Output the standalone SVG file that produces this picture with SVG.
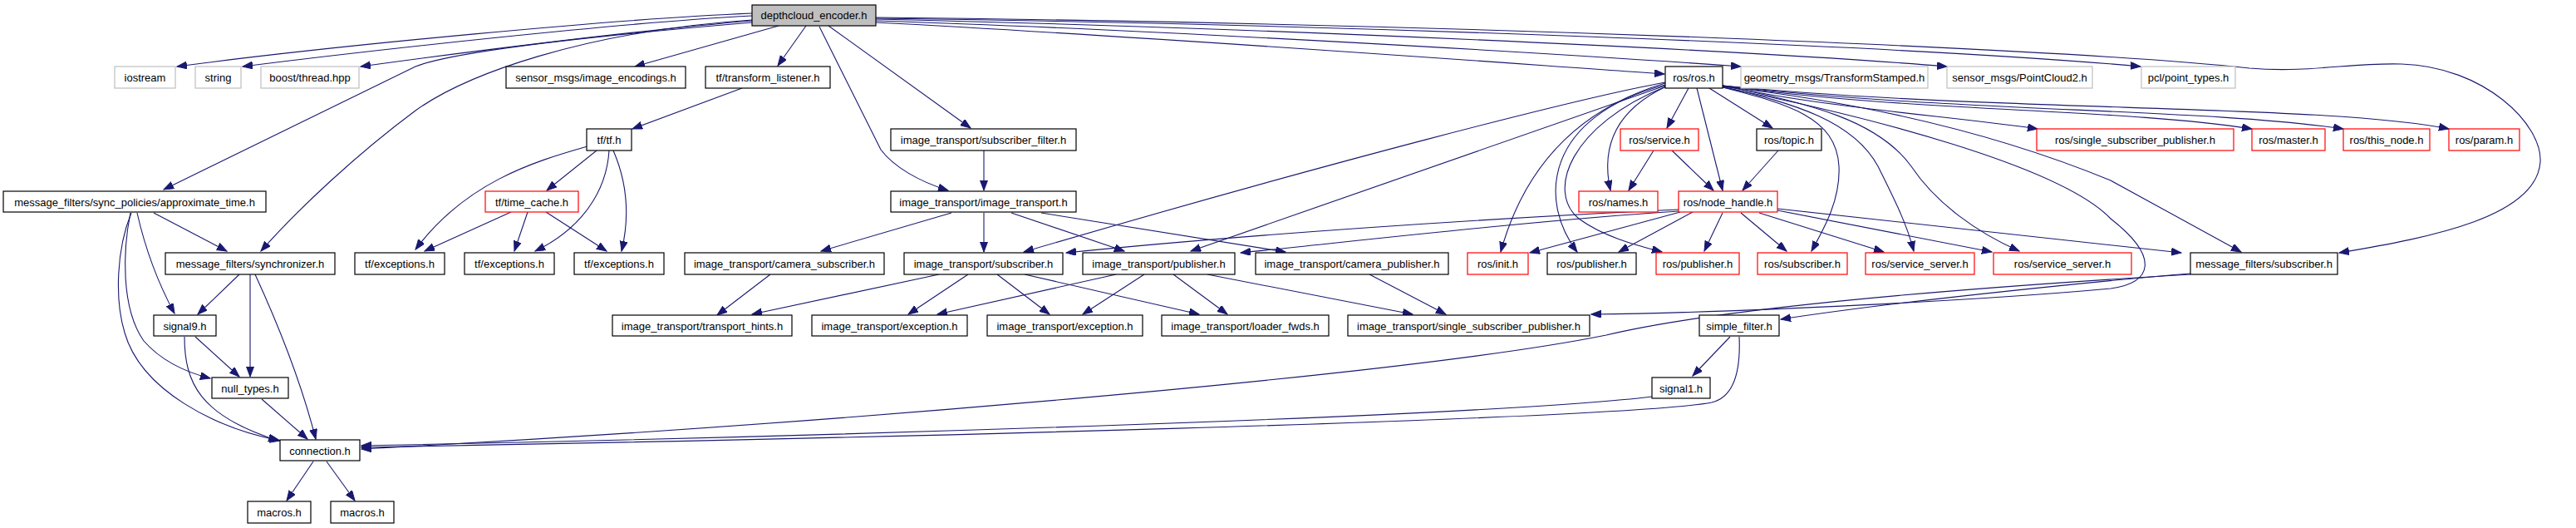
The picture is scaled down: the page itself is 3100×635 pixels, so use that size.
<svg xmlns="http://www.w3.org/2000/svg" width="3100" height="635" viewBox="0 0 3100 635">
<defs>
<marker id="ah" markerUnits="userSpaceOnUse" markerWidth="13" markerHeight="10" refX="12" refY="4.5" orient="auto">
<path d="M0,0 L12,4.5 L0,9 z" fill="#191970" stroke="#191970" stroke-width="1"/>
</marker>
<style>
.e{fill:none;stroke:#191970;stroke-width:1.1;marker-end:url(#ah)}
.n rect{fill:#fff;stroke:#000;stroke-width:1.2}
.n.r rect{stroke:#ff0000}
.n.g rect{stroke:#bfbfbf}
.n.root rect{fill:#bfbfbf;stroke:#000}
.n text{font-family:"Liberation Sans",Arial,sans-serif;font-size:13px;text-anchor:middle;fill:#000}
</style>
</defs>
<rect width="3100" height="635" fill="#fff"/>
<g id="edges">
<path class="e" d="M905,16 C750,22 400,55 213,80"/>
<path class="e" d="M905,19 C750,27 450,60 292,80"/>
<path class="e" d="M905,25 C750,38 520,68 434,80"/>
<path class="e" d="M905,27 C680,46 540,64 500,80 L197,228"/>
<path class="e" d="M905,24 C700,38 560,90 500,133 C430,185 360,250 314,302"/>
<path class="e" d="M937,31 L764,80"/>
<path class="e" d="M970,31 L936,79"/>
<path class="e" d="M997,31 L1168,154"/>
<path class="e" d="M986,32 L1060,180 C1075,200 1105,218 1141,229"/>
<path class="e" d="M1054,27 C1400,45 1800,75 2003,89"/>
<path class="e" d="M1054,25 C1400,36 1900,66 2095,80"/>
<path class="e" d="M1054,23 C1500,33 2100,60 2343,80"/>
<path class="e" d="M1054,22 C1600,29 2300,55 2576,80"/>
<path class="e" d="M1054,21 C1800,29 2500,60 2707,82 C2780,88 2830,75 2890,77 C2990,80 3060,150 3057,195 C3052,260 2930,285 2815,304"/>
<path class="e" d="M893,106 L761,155"/>
<path class="e" d="M718,181 L658,229"/>
<path class="e" d="M707,176 C640,195 560,220 500,300"/>
<path class="e" d="M733,181 C730,230 700,275 644,302"/>
<path class="e" d="M738,181 C755,220 758,260 748,302"/>
<path class="e" d="M615,255 L511,302"/>
<path class="e" d="M635,255 L619,302"/>
<path class="e" d="M657,255 L730,302"/>
<path class="e" d="M1184,181 L1184,229"/>
<path class="e" d="M1145,256 L988,302"/>
<path class="e" d="M1184,256 L1184,303"/>
<path class="e" d="M1217,256 L1353,302"/>
<path class="e" d="M1253,256 L1547,303"/>
<path class="e" d="M2004,99 C1900,118 1600,195 1232,303"/>
<path class="e" d="M2004,103 L1433,302"/>
<path class="e" d="M2032,106 L2006,154"/>
<path class="e" d="M2042,106 L2073,229"/>
<path class="e" d="M2057,106 L2133,154"/>
<path class="e" d="M2005,104 C1950,130 1925,170 1938,229"/>
<path class="e" d="M2004,100 C1920,125 1840,180 1806,303"/>
<path class="e" d="M2004,102 C1860,140 1850,240 1898,303"/>
<path class="e" d="M2005,104 C1890,150 1860,230 1900,263 C1930,285 1970,295 2000,303"/>
<path class="e" d="M2073,105 C2150,125 2210,140 2213,200 C2215,240 2195,275 2180,302"/>
<path class="e" d="M2073,104 C2160,125 2230,145 2260,200 C2280,240 2295,270 2303,302"/>
<path class="e" d="M2073,103 C2180,125 2260,145 2300,200 C2330,245 2380,280 2430,302"/>
<path class="e" d="M2073,103 C2200,130 2350,140 2452,155"/>
<path class="e" d="M2073,103 C2300,135 2550,130 2710,155"/>
<path class="e" d="M2073,103 C2350,135 2650,130 2820,155"/>
<path class="e" d="M2073,103 C2400,135 2800,125 2947,155"/>
<path class="e" d="M2073,104 C2300,130 2450,180 2540,217 L2697,303"/>
<path class="e" d="M2073,105 C2250,140 2480,200 2540,263 C2600,310 2590,340 2540,347 C2400,360 2100,376 1915,378"/>
<path class="e" d="M1990,181 L1960,229"/>
<path class="e" d="M2012,181 L2062,229"/>
<path class="e" d="M2140,181 L2097,229"/>
<path class="e" d="M2020,252 C1800,262 1500,282 1283,304"/>
<path class="e" d="M2020,254 C1850,265 1650,288 1493,304"/>
<path class="e" d="M2022,255 L1841,304"/>
<path class="e" d="M2037,255 L1948,303"/>
<path class="e" d="M2073,256 L2051,302"/>
<path class="e" d="M2095,256 L2150,302"/>
<path class="e" d="M2117,256 L2267,303"/>
<path class="e" d="M2139,253 L2397,303"/>
<path class="e" d="M2139,251 L2625,304"/>
<path class="e" d="M927,330 L863,379"/>
<path class="e" d="M1130,330 L905,378"/>
<path class="e" d="M1165,330 L1093,378"/>
<path class="e" d="M1200,330 L1263,378"/>
<path class="e" d="M1233,330 L1443,378"/>
<path class="e" d="M1343,330 L1128,378"/>
<path class="e" d="M1377,330 L1303,378"/>
<path class="e" d="M1412,330 L1477,378"/>
<path class="e" d="M1453,330 L1700,378"/>
<path class="e" d="M1648,330 L1740,378"/>
<path class="e" d="M2636,329 C2550,336 2300,360 2143,384"/>
<path class="e" d="M2636,330 C2300,350 2050,375 1933,403 C1700,450 1000,510 435,540"/>
<path class="e" d="M2082,405 L2037,452"/>
<path class="e" d="M2093,405 C2095,450 2085,478 2060,484 C1950,505 1000,528 435,538"/>
<path class="e" d="M1988,477 C1800,500 1000,525 435,536"/>
<path class="e" d="M185,256 L273,302"/>
<path class="e" d="M165,256 C175,300 190,340 210,377"/>
<path class="e" d="M157,256 C148,300 145,370 173,410 C195,435 225,448 253,455"/>
<path class="e" d="M158,256 C140,300 138,360 150,400 C170,470 260,515 337,530"/>
<path class="e" d="M288,330 L238,378"/>
<path class="e" d="M301,330 L301,453"/>
<path class="e" d="M307,330 C330,380 360,450 380,528"/>
<path class="e" d="M235,405 L288,453"/>
<path class="e" d="M222,405 C222,460 240,500 335,530"/>
<path class="e" d="M315,480 L370,528"/>
<path class="e" d="M377,555 L345,602"/>
<path class="e" d="M393,555 L427,602"/>
</g>
<g id="n0" class="n root"><rect x="905" y="6" width="149" height="25"/><text x="979.5" y="23">depthcloud_encoder.h</text></g>
<g id="n1" class="n g"><rect x="138" y="80" width="73" height="26"/><text x="174.5" y="97.5">iostream</text></g>
<g id="n2" class="n g"><rect x="235" y="80" width="55" height="26"/><text x="262.5" y="97.5">string</text></g>
<g id="n3" class="n g"><rect x="314" y="80" width="118" height="26"/><text x="373" y="97.5">boost/thread.hpp</text></g>
<g id="n4" class="n"><rect x="609" y="80" width="216" height="26"/><text x="717" y="97.5">sensor_msgs/image_encodings.h</text></g>
<g id="n5" class="n"><rect x="849" y="80" width="150" height="26"/><text x="924" y="97.5">tf/transform_listener.h</text></g>
<g id="n6" class="n"><rect x="2004" y="80" width="69" height="26"/><text x="2038.5" y="97.5">ros/ros.h</text></g>
<g id="n7" class="n g"><rect x="2095" y="80" width="225" height="26"/><text x="2207.5" y="97.5">geometry_msgs/TransformStamped.h</text></g>
<g id="n8" class="n g"><rect x="2343" y="80" width="175" height="26"/><text x="2430.5" y="97.5">sensor_msgs/PointCloud2.h</text></g>
<g id="n9" class="n g"><rect x="2577" y="80" width="113" height="26"/><text x="2633.5" y="97.5">pcl/point_types.h</text></g>
<g id="n10" class="n"><rect x="706" y="155" width="54" height="26"/><text x="733" y="172.5">tf/tf.h</text></g>
<g id="n11" class="n"><rect x="1072" y="155" width="223" height="26"/><text x="1183.5" y="172.5">image_transport/subscriber_filter.h</text></g>
<g id="n12" class="n r"><rect x="1950" y="155" width="94" height="26"/><text x="1997" y="172.5">ros/service.h</text></g>
<g id="n13" class="n"><rect x="2114" y="155" width="78" height="26"/><text x="2153" y="172.5">ros/topic.h</text></g>
<g id="n14" class="n r"><rect x="2451" y="155" width="237" height="26"/><text x="2569.5" y="172.5">ros/single_subscriber_publisher.h</text></g>
<g id="n15" class="n r"><rect x="2710" y="155" width="88" height="26"/><text x="2754" y="172.5">ros/master.h</text></g>
<g id="n16" class="n r"><rect x="2820" y="155" width="104" height="26"/><text x="2872" y="172.5">ros/this_node.h</text></g>
<g id="n17" class="n r"><rect x="2947" y="155" width="85" height="26"/><text x="2989.5" y="172.5">ros/param.h</text></g>
<g id="n18" class="n"><rect x="4" y="230" width="316" height="25"/><text x="162" y="247.5">message_filters/sync_policies/approximate_time.h</text></g>
<g id="n19" class="n r"><rect x="584" y="230" width="112" height="25"/><text x="640" y="247.5">tf/time_cache.h</text></g>
<g id="n20" class="n"><rect x="1072" y="230" width="223" height="25"/><text x="1183.5" y="247.5">image_transport/image_transport.h</text></g>
<g id="n21" class="n r"><rect x="1900" y="230" width="95" height="25"/><text x="1947.5" y="247.5">ros/names.h</text></g>
<g id="n22" class="n r"><rect x="2020" y="230" width="119" height="25"/><text x="2079.5" y="247.5">ros/node_handle.h</text></g>
<g id="n23" class="n"><rect x="199" y="304" width="204" height="26"/><text x="301" y="321.5">message_filters/synchronizer.h</text></g>
<g id="n24" class="n"><rect x="427" y="304" width="108" height="26"/><text x="481" y="321.5">tf/exceptions.h</text></g>
<g id="n25" class="n"><rect x="559" y="304" width="108" height="26"/><text x="613" y="321.5">tf/exceptions.h</text></g>
<g id="n26" class="n"><rect x="691" y="304" width="108" height="26"/><text x="745" y="321.5">tf/exceptions.h</text></g>
<g id="n27" class="n"><rect x="824" y="304" width="240" height="26"/><text x="944" y="321.5">image_transport/camera_subscriber.h</text></g>
<g id="n28" class="n"><rect x="1088" y="304" width="191" height="26"/><text x="1183.5" y="321.5">image_transport/subscriber.h</text></g>
<g id="n29" class="n"><rect x="1303" y="304" width="183" height="26"/><text x="1394.5" y="321.5">image_transport/publisher.h</text></g>
<g id="n30" class="n"><rect x="1511" y="304" width="232" height="26"/><text x="1627" y="321.5">image_transport/camera_publisher.h</text></g>
<g id="n31" class="n r"><rect x="1766" y="304" width="73" height="26"/><text x="1802.5" y="321.5">ros/init.h</text></g>
<g id="n32" class="n"><rect x="1862" y="304" width="107" height="26"/><text x="1915.5" y="321.5">ros/publisher.h</text></g>
<g id="n33" class="n r"><rect x="1993" y="304" width="100" height="26"/><text x="2043" y="321.5">ros/publisher.h</text></g>
<g id="n34" class="n r"><rect x="2115" y="304" width="108" height="26"/><text x="2169" y="321.5">ros/subscriber.h</text></g>
<g id="n35" class="n r"><rect x="2245" y="304" width="131" height="26"/><text x="2310.5" y="321.5">ros/service_server.h</text></g>
<g id="n36" class="n r"><rect x="2399" y="304" width="166" height="26"/><text x="2482" y="321.5">ros/service_server.h</text></g>
<g id="n37" class="n"><rect x="2636" y="304" width="177" height="26"/><text x="2724.5" y="321.5">message_filters/subscriber.h</text></g>
<g id="n38" class="n"><rect x="185" y="379" width="75" height="25"/><text x="222.5" y="396.5">signal9.h</text></g>
<g id="n39" class="n"><rect x="737" y="379" width="216" height="25"/><text x="845" y="396.5">image_transport/transport_hints.h</text></g>
<g id="n40" class="n"><rect x="977" y="379" width="187" height="25"/><text x="1070.5" y="396.5">image_transport/exception.h</text></g>
<g id="n41" class="n"><rect x="1188" y="379" width="187" height="25"/><text x="1281.5" y="396.5">image_transport/exception.h</text></g>
<g id="n42" class="n"><rect x="1398" y="379" width="201" height="25"/><text x="1498.5" y="396.5">image_transport/loader_fwds.h</text></g>
<g id="n43" class="n"><rect x="1622" y="379" width="291" height="25"/><text x="1767.5" y="396.5">image_transport/single_subscriber_publisher.h</text></g>
<g id="n44" class="n"><rect x="2045" y="379" width="96" height="25"/><text x="2093" y="396.5">simple_filter.h</text></g>
<g id="n45" class="n"><rect x="255" y="454" width="92" height="25"/><text x="301" y="471.5">null_types.h</text></g>
<g id="n46" class="n"><rect x="1988" y="454" width="70" height="25"/><text x="2023" y="471.5">signal1.h</text></g>
<g id="n47" class="n"><rect x="337" y="529" width="96" height="25"/><text x="385" y="546.5">connection.h</text></g>
<g id="n48" class="n"><rect x="298" y="603" width="76" height="26"/><text x="336" y="620.5">macros.h</text></g>
<g id="n49" class="n"><rect x="398" y="603" width="76" height="26"/><text x="436" y="620.5">macros.h</text></g>
</svg>
